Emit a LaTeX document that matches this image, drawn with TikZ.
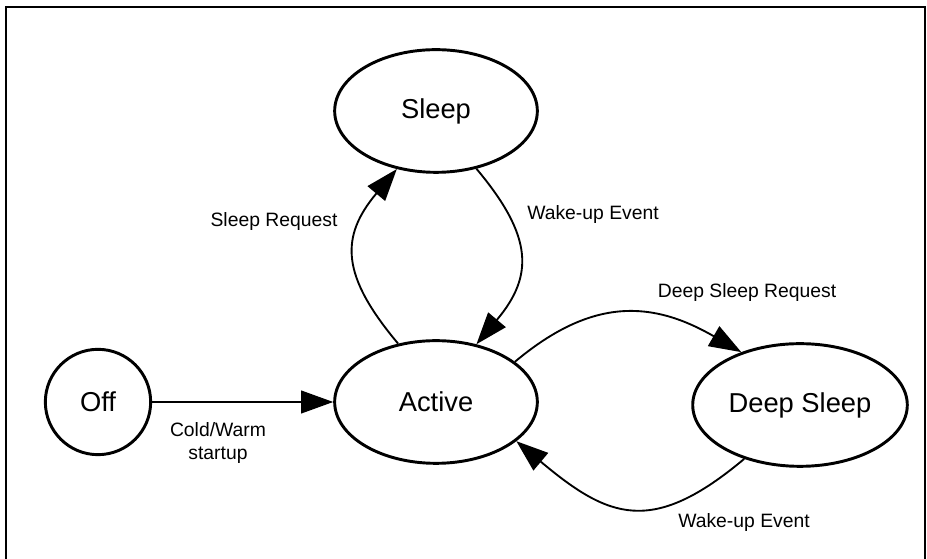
\documentclass[tikz,border=0pt]{standalone}
\usepackage{fontspec}
\setmainfont{Liberation Sans}
\usetikzlibrary{shapes.geometric,arrows.meta}

\begin{document}
\begin{tikzpicture}[x=0.75pt, y=0.75pt,
    state/.style={draw, ellipse, line width=2.2pt, minimum width=152pt, minimum height=92pt, font=\fontsize{20.5}{24}\selectfont},
    trans/.style={-{Triangle[length=24pt, width=17pt]}, line width=1.4pt},
    tlabel/.style={font=\fontsize{14.5}{17}\selectfont, align=center}]
    \useasboundingbox (0,0) rectangle (927,559);

    % --- Frame ---
    \draw[line width=1.6pt] (6,-2) -- (6,552) -- (925,552) -- (925,-2);

    % --- States ---
    \node[draw, circle, line width=2.2pt, minimum size=79pt, font=\fontsize{20.5}{24}\selectfont] (off) at (98,157) {Off};
    \node[state] (active) at (436,157) {Active};
    \node[state] (sleep) at (436,448) {Sleep};
    \node[state] (deep) at (800,154) {Deep Sleep};

    % --- Transitions ---
    \draw[trans] (off.east) -- (active.west);
    \draw[trans] (active.123) to[out=130, in=230, looseness=1.3] (sleep.236);
    \draw[trans] (sleep.305) to[out=-50, in=50, looseness=1.3] (active.55);
    \draw[trans] (active.27) to[out=40, in=150, looseness=1.15] (deep.138);
    \draw[trans] (deep.224) to[out=220, in=320, looseness=1.35] (active.334);

    % --- Labels ---
    \node[tlabel] (lcold) at (218,116) {Cold/Warm\\startup};
    \node[tlabel] (lsleepreq) at (274,337) {Sleep Request};
    \node[tlabel] (lwake1) at (593,344) {Wake-up Event};
    \node[tlabel] (ldeepreq) at (747,266) {Deep Sleep Request};
    \node[tlabel] (lwake2) at (744,36) {Wake-up Event};
\end{tikzpicture}
\end{document}
